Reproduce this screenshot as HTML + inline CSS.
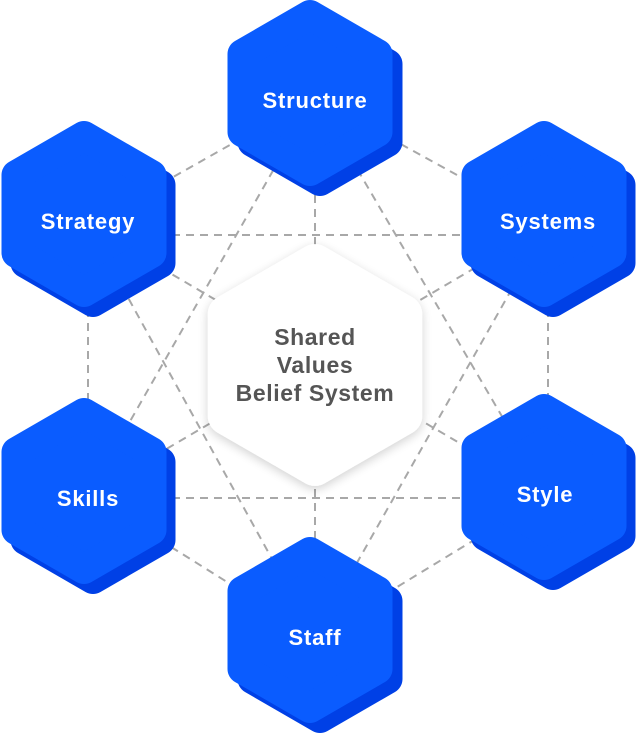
<!DOCTYPE html>
<html><head><meta charset="utf-8"><style>
html,body{margin:0;padding:0;background:#fff;}
svg{display:block}
text{font-family:"Liberation Sans",sans-serif;font-weight:bold;}
</style></head><body>
<svg width="638" height="736" viewBox="0 0 638 736" xmlns="http://www.w3.org/2000/svg">
<defs>
<filter id="sh" x="-30%" y="-30%" width="160%" height="160%"><feGaussianBlur in="SourceAlpha" stdDeviation="5"/><feOffset dy="3"/><feComponentTransfer><feFuncA type="linear" slope="0.18"/></feComponentTransfer><feMerge><feMergeNode/><feMergeNode in="SourceGraphic"/></feMerge></filter>
<polygon id="hx" points="0,-78 67.5,-39 67.5,39 0,78 -67.5,39 -67.5,-39" stroke-linejoin="round" stroke-width="30"/>
</defs>
<g stroke="#a8a8a8" stroke-width="2" stroke-dasharray="8,6" fill="none">
<line x1="315" y1="97" x2="88" y2="225"/><line x1="315" y1="97" x2="548" y2="225"/>
<line x1="88" y1="225" x2="88" y2="495"/><line x1="548" y1="225" x2="548" y2="495"/>
<line x1="88" y1="495" x2="315" y2="637"/><line x1="548" y1="495" x2="315" y2="637"/>
<line x1="88" y1="235" x2="548" y2="235"/><line x1="88" y1="498" x2="548" y2="498"/>
<line x1="315" y1="97" x2="88" y2="495"/><line x1="315" y1="97" x2="548" y2="495"/>
<line x1="315" y1="637" x2="88" y2="225"/><line x1="315" y1="637" x2="548" y2="225"/>
<line x1="315" y1="97" x2="315" y2="637"/>
<line x1="88" y1="225" x2="548" y2="495"/><line x1="548" y1="225" x2="88" y2="495"/>
</g>
<g filter="url(#sh)">
<use href="#hx" x="315" y="365" transform="translate(315 365) scale(1.3) translate(-315 -365)" fill="#fff" stroke="#fff"/>
</g>
<g>
<use href="#hx" x="320" y="103" fill="#0040e6" stroke="#0040e6"/>
<use href="#hx" x="310" y="93" fill="#0a5cff" stroke="#0a5cff"/>
<use href="#hx" x="93" y="224" fill="#0040e6" stroke="#0040e6"/>
<use href="#hx" x="84" y="214" fill="#0a5cff" stroke="#0a5cff"/>
<use href="#hx" x="553" y="224" fill="#0040e6" stroke="#0040e6"/>
<use href="#hx" x="544" y="214" fill="#0a5cff" stroke="#0a5cff"/>
<use href="#hx" x="93" y="501" fill="#0040e6" stroke="#0040e6"/>
<use href="#hx" x="84" y="491" fill="#0a5cff" stroke="#0a5cff"/>
<use href="#hx" x="553" y="497" fill="#0040e6" stroke="#0040e6"/>
<use href="#hx" x="544" y="487" fill="#0a5cff" stroke="#0a5cff"/>
<use href="#hx" x="320" y="640" fill="#0040e6" stroke="#0040e6"/>
<use href="#hx" x="310" y="630" fill="#0a5cff" stroke="#0a5cff"/>
</g>
<g fill="#fff" font-size="22" text-anchor="middle" letter-spacing="0.8">
<text x="315" y="108">Structure</text>
<text x="88" y="229">Strategy</text>
<text x="548" y="229">Systems</text>
<text x="88" y="506">Skills</text>
<text x="545" y="502">Style</text>
<text x="315" y="645">Staff</text>
</g>
<g fill="#555" font-size="23" text-anchor="middle" letter-spacing="0.6">
<text x="315" y="345">Shared</text>
<text x="315" y="373">Values</text>
<text x="315" y="401">Belief System</text>
</g>
</svg>
</body></html>
